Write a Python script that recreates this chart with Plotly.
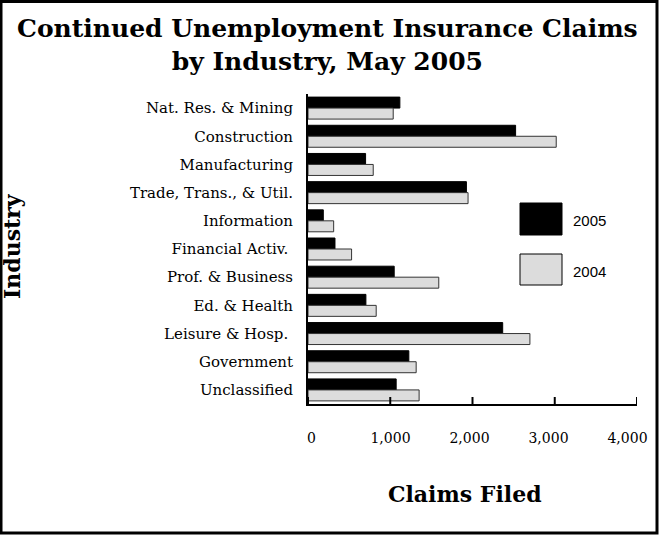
import plotly.graph_objects as go

# Continued UI claims by industry, May 2005 vs. May 2004
industries = [
    "Nat. Res. & Mining", "Construction", "Manufacturing", "Trade, Trans., & Util.",
    "Information", "Financial Activ.\u00a0", "Prof. & Business", "Ed. & Health",
    "Leisure & Hosp.\u00a0", "Government", "Unclassified",
]
claims_2005 = [1117, 2524, 700, 1926, 186, 328, 1048, 704, 2367, 1226, 1072]
claims_2004 = [1036, 3018, 793, 1946, 312, 530, 1590, 829, 2698, 1315, 1351]
x_ticks = [0, 1000, 2000, 3000, 4000]
x_tick_labels = ["0", "1,000", "2,000", "3,000", "4,000"]

W, H = 659, 535
ML, MR, MT, MB = 308, 22, 94, 131
PW, PH = W - ML - MR, H - MT - MB


def px_x(px):
    return (px - ML) / PW


def px_y(py):
    return (H - MB - py) / PH


SERIF = "DejaVu Serif"
BLACK, GREY = "#000000", "#dcdcdc"

fig = go.Figure()
fig.add_trace(go.Bar(y=industries, x=claims_2005, orientation="h", name="2005",
                     marker=dict(color=BLACK, line=dict(color="#000000", width=1))))
fig.add_trace(go.Bar(y=industries, x=claims_2004, orientation="h", name="2004",
                     marker=dict(color=GREY, line=dict(color="#333333", width=1))))
# an invisible trace keeps the label axis active
fig.add_trace(go.Scatter(x=[None], y=[None], xaxis="x2", yaxis="y",
                         hoverinfo="skip", showlegend=False))

shapes = [
    # outer frame
    dict(type="rect", xref="paper", yref="paper",
         x0=px_x(1), x1=px_x(657), y0=px_y(533), y1=px_y(1.5),
         line=dict(color="black", width=3), fillcolor="rgba(0,0,0,0)", layer="above"),
    # legend swatches
    dict(type="rect", xref="paper", yref="paper",
         x0=px_x(520), x1=px_x(562), y0=px_y(235), y1=px_y(203),
         line=dict(color="black", width=1), fillcolor=BLACK),
    dict(type="rect", xref="paper", yref="paper",
         x0=px_x(520), x1=px_x(562), y0=px_y(285), y1=px_y(254),
         line=dict(color="black", width=1), fillcolor=GREY),
]
# upward tick marks on the value axis, one per tick value
for v in x_ticks:
    shapes.append(dict(type="line", xref="x", yref="paper", x0=v, x1=v,
                       y0=0, y1=7 / PH, line=dict(color="black", width=2), layer="above"))

annotations = [
    dict(text="<b>Continued Unemployment Insurance Claims<br>by Industry, May 2005</b>",
         xref="paper", yref="paper", x=px_x(327), y=px_y(45), xanchor="center", yanchor="middle",
         showarrow=False, font=dict(family=SERIF, size=25, color="black")),
    dict(text="<b>Industry</b>", xref="paper", yref="paper", textangle=-90,
         x=px_x(12), y=px_y(246), xanchor="center", yanchor="middle", showarrow=False,
         font=dict(family=SERIF, size=22, color="black")),
    dict(text="<b>Claims Filed</b>", xref="paper", yref="paper",
         x=px_x(465), y=px_y(494), xanchor="center", yanchor="middle", showarrow=False,
         font=dict(family=SERIF, size=22, color="black")),
    dict(text="2005", xref="paper", yref="paper", x=px_x(571), y=px_y(220),
         xanchor="left", yanchor="middle", showarrow=False,
         font=dict(family="Liberation Sans", size=15, color="black")),
    dict(text="2004", xref="paper", yref="paper", x=px_x(571), y=px_y(271),
         xanchor="left", yanchor="middle", showarrow=False,
         font=dict(family="Liberation Sans", size=15, color="black")),
]

fig.update_layout(
    width=W, height=H,
    margin=dict(l=ML, r=MR, t=MT, b=MB, autoexpand=False),
    paper_bgcolor="white", plot_bgcolor="white",
    barmode="group", bargap=0.22, bargroupgap=0.0,
    showlegend=False,
    shapes=shapes, annotations=annotations,
    font=dict(family=SERIF, color="black"),
    # main value axis: line only (tick marks added as shapes above)
    xaxis=dict(
        range=[0, 4000], tickvals=x_ticks, showticklabels=False, ticks="",
        showline=True, linecolor="black", linewidth=2,
        showgrid=False, zeroline=False, automargin=False, fixedrange=True,
    ),
    # label scale sitting below the axis, spaced a little tighter than the tick marks
    xaxis2=dict(
        overlaying="x", side="bottom", anchor="y",
        range=[(ML - 311.5) / 0.079, (ML + PW - 311.5) / 0.079],
        tickvals=x_ticks, ticktext=x_tick_labels, ticks="",
        showline=False, showgrid=False, zeroline=False,
        ticklabelstandoff=24, automargin=False, fixedrange=True,
        tickfont=dict(family=SERIF, size=14, color="black"),
    ),
    yaxis=dict(
        autorange="reversed", showline=True, linecolor="black", linewidth=2,
        ticks="", showgrid=False, ticklabelstandoff=10, automargin=False,
        tickfont=dict(family=SERIF, size=15, color="black"), fixedrange=True,
    ),
)

fig.write_html("out.html")
